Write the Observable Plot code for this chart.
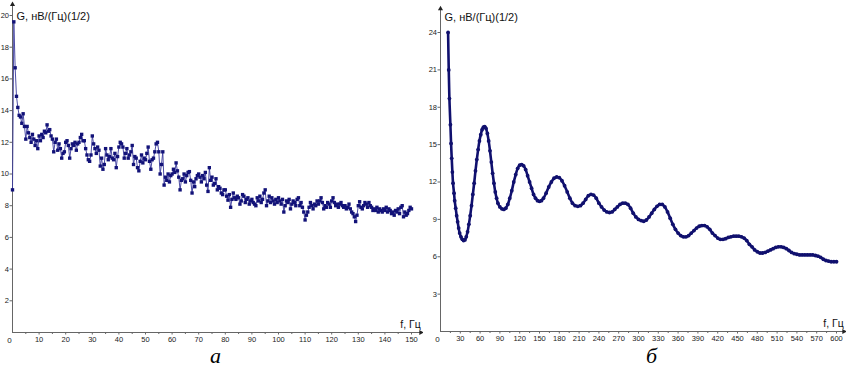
<!DOCTYPE html>
<html><head><meta charset="utf-8">
<script src="https://cdn.jsdelivr.net/npm/d3@7"></script>
<script src="https://cdn.jsdelivr.net/npm/@observablehq/plot@0.6"></script>
<style>
body{margin:0;background:#fff;}
#wrap{position:relative;width:846px;height:370px;overflow:hidden;}
#pa{position:absolute;left:0;top:0;}
#pb{position:absolute;left:423px;top:0;}
#wrap svg, #wrap svg text{font-family:"Liberation Sans",Arial,Helvetica,sans-serif;}
.cap{position:absolute;top:345px;font-family:"Liberation Serif","DejaVu Serif",serif;font-style:italic;font-size:22px;color:#000;line-height:1;}
</style></head><body>
<div id="wrap"><div id="pa"></div><div id="pb"></div>
<div class="cap" style="left:210px">а</div><div class="cap" style="left:646px">б</div></div>
<script>
// ---- chart а : spectrum 0..150 Hz, step 0.5 Hz ----
const stepA = 0.5;
const gA = [
 9.0,19.6,16.7,14.9,14.2,13.7,13.6,13.2,13.8,13.0,12.2,13.0,12.6,12.3,12.0,12.5,12.2,11.8,12.1,11.6,
 12.4,12.1,12.5,12.3,12.7,12.6,13.1,12.7,12.8,12.4,12.2,11.4,12.0,12.2,11.5,11.9,11.6,11.0,11.3,11.4,
 12.0,12.1,11.8,11.0,11.6,11.9,11.8,12.0,11.5,11.9,12.0,12.3,12.5,12.1,12.1,11.6,11.2,10.9,10.8,11.2,
 12.4,11.9,11.6,11.3,11.7,11.5,10.5,11.0,10.3,10.6,11.6,11.2,10.9,11.1,11.6,11.0,10.9,11.3,10.4,11.1,
 11.7,12.0,11.9,11.7,11.0,11.3,11.6,11.0,11.2,11.4,11.8,10.6,11.1,11.0,10.4,10.2,10.8,11.2,10.7,11.0,
 10.9,11.3,11.7,10.8,10.3,10.9,11.0,11.4,11.9,12.0,11.4,10.0,10.6,11.4,9.3,9.8,9.6,10.0,9.5,9.9,
 10.0,10.3,10.1,10.7,10.2,9.8,9.0,9.6,9.7,10.0,9.5,9.9,10.1,10.15,9.6,8.8,9.5,9.2,9.7,9.9,
 10.0,9.8,9.5,9.9,9.7,10.1,9.3,8.9,10.4,9.6,9.8,9.3,9.4,9.7,9.0,9.2,9.1,8.8,8.7,9.0,
 9.0,8.6,8.35,8.7,7.9,8.4,8.8,8.5,8.4,8.6,8.5,8.1,8.3,8.7,8.6,8.2,8.4,8.5,8.1,8.3,
 8.4,8.2,8.1,8.0,8.5,8.3,8.6,8.2,8.4,8.8,9.0,8.0,8.3,8.6,8.2,8.5,8.3,8.1,8.4,8.2,
 8.5,8.3,8.1,8.4,7.6,8.0,8.3,8.2,8.4,7.8,8.1,8.3,8.2,8.0,8.4,8.5,8.0,8.2,7.9,7.6,
 7.1,7.4,7.6,7.9,8.2,8.0,7.8,8.1,8.0,8.3,8.1,8.3,8.5,8.2,7.8,8.0,7.9,8.2,8.1,7.9,
 8.3,8.5,8.2,8.0,8.1,7.9,8.1,8.2,8.0,7.9,8.0,7.8,7.9,8.1,7.8,7.6,7.5,7.3,7.0,7.4,
 8.0,8.25,7.9,7.8,8.0,8.2,8.1,7.9,8.2,8.0,7.9,7.7,7.8,7.7,7.9,7.6,7.8,7.7,7.6,7.8,
 7.7,7.9,7.6,7.8,7.7,7.5,7.6,7.4,7.7,7.6,7.8,7.5,7.9,8.0,7.3,7.6,7.4,7.5,7.7,7.9,
 7.8
];
const yTicksA = [2,4,6,8,10,12,14,16,18,20];
const xTicksA = [10,20,30,40,50,60,70,80,90,100,110,120,130,140,150];
const xMinorA = [5,15,25,35,45,55,65,75,85,95,105,115,125,135,145];

// ---- chart б : spectrum 0..600 Hz ----
const fB = [11.5,12.5,13.5,15,16,17,18,19,20.5,21.5,23,24.5,26,27.5,29,31,33,35,37,39,
 41,43,45,47,49,51,53,55,57,59,61,63,65,67,69,71,73,75,77,79,
 81,83,85,87,90,93,96,99,102,105,108,111,114,117,120,123,126,129,132,135,
 138,141,144,147,150,153,156,160,164,168,172,176,180,184,188,192,196,200,204,208,
 212,216,220,224,228,232,236,240,244,248,252,256,260,264,268,272,276,280,284,288,
 292,296,300,304,308,312,316,320,324,328,332,336,340,344,348,352,356,360,364,368,
 372,376,380,384,388,392,396,400,404,408,412,416,420,424,428,432,436,440,444,448,
 452,456,460,464,468,472,476,480,484,488,492,496,500,504,508,512,516,520,524,528,
 532,536,540,544,548,552,556,560,564,568,572,576,580,584,588,592,596,600];
const gB = [24.0,21.0,18.7,16.6,15.1,13.9,12.8,11.9,11.1,10.5,9.9,9.3,8.8,8.3,7.9,7.6,7.4,7.3,7.35,7.6,
 8.0,8.6,9.3,10.1,11.0,11.9,12.9,13.8,14.6,15.3,15.8,16.2,16.4,16.45,16.3,15.9,15.3,14.5,13.6,12.7,
 11.9,11.2,10.7,10.3,10.0,9.85,9.8,9.9,10.2,10.7,11.3,12.0,12.6,13.1,13.35,13.4,13.3,13.0,12.5,12.0,
 11.5,11.0,10.7,10.5,10.45,10.5,10.7,11.1,11.6,12.0,12.3,12.4,12.35,12.1,11.7,11.2,10.7,10.3,10.1,10.05,
 10.1,10.3,10.6,10.9,11.0,10.95,10.7,10.3,10.0,9.75,9.6,9.55,9.6,9.8,10.0,10.2,10.3,10.3,10.2,9.9,
 9.5,9.2,9.0,8.9,8.85,8.95,9.2,9.5,9.8,10.05,10.2,10.2,10.0,9.6,9.1,8.6,8.2,7.9,7.7,7.6,
 7.6,7.7,7.9,8.1,8.3,8.45,8.5,8.5,8.4,8.2,7.9,7.7,7.5,7.4,7.4,7.45,7.55,7.6,7.65,7.65,
 7.65,7.6,7.5,7.3,7.0,6.8,6.55,6.4,6.3,6.3,6.35,6.45,6.55,6.65,6.75,6.8,6.8,6.75,6.65,6.5,
 6.35,6.25,6.2,6.15,6.15,6.15,6.15,6.15,6.15,6.1,6.05,5.95,5.8,5.7,5.65,5.6,5.6,5.6];
const yTicksB = [3,6,9,12,15,18,21,24];
const xTicksB = [30,60,90,120,150,180,210,240,270,300,330,360,390,420,450,480,510,540,570,600];
const xMinorB = [15,45,75,105,135,165,195,225,255,285,315,345,375,405,435,465,495,525,555,585];

const yLabel = "G, нВ/(Гц)(1/2)";
const xLabel = "f, Гц";

const dataA = gA.map((g, i) => ({f: i * stepA, g}));
const dataB = fB.map((f, i) => ({f, g: gB[i]}));

const font = "Liberation Sans, Arial, Helvetica, sans-serif";
const axisCol = "#666";

function frame(xTop, yTop, opts) {
  return [
    Plot.ruleX([0], {y1: 0, y2: yTop, stroke: axisCol, strokeWidth: 1}),
    Plot.ruleY([0], {x1: 0, x2: xTop, stroke: axisCol, strokeWidth: 1}),
    Plot.dot([{x: 0, y: yTop}], {x: "x", y: "y", symbol: "triangle", r: 1.9, fill: "#222", stroke: null}),
    Plot.dot([{x: xTop, y: 0}], {x: "x", y: "y", symbol: "triangle", rotate: 90, r: 1.9, fill: "#222", stroke: null}),
    Plot.axisY({ticks: opts.yTicks, tickSize: 2.5, tickPadding: 1, label: null, stroke: axisCol, fill: "#222"}),
    Plot.axisX({ticks: opts.xTicks, tickSize: 2.5, tickPadding: 2, label: null, stroke: axisCol, fill: "#222"}),
    Plot.axisX({ticks: opts.xMinor, tickSize: 2, text: null, label: null, stroke: axisCol}),
    Plot.text(["0"], {x: 0, y: 0, dx: -3, dy: 7.5, fill: "#222", fontSize: 8}),
    Plot.text([yLabel], {x: 0, y: opts.yLabelAt, dx: 4, dy: 1, textAnchor: "start", fontSize: 11, fill: "#111"}),
    Plot.text([xLabel], {x: xTop, y: 0, dx: 0, dy: -8, textAnchor: "end", fontSize: 10.5, fill: "#111"})
  ];
}

const plotA = Plot.plot({
  width: 423, height: 343,
  marginLeft: 12, marginRight: 12, marginTop: 15, marginBottom: 11,
  x: {domain: [0, 150]},
  y: {domain: [0, 20]},
  style: {fontFamily: font, fontSize: "7.5px", background: "#fff", overflow: "visible"},
  marks: [
    ...frame(153.5, 20.7, {yTicks: yTicksA, xTicks: xTicksA, xMinor: xMinorA, yLabelAt: 20}),
    Plot.line(dataA, {x: "f", y: "g", stroke: "#3a3a9c", strokeWidth: 0.9}),
    Plot.dot(dataA, {x: "f", y: "g", symbol: "square", r: 1.9, fill: "#121278", stroke: null})
  ]
});
document.getElementById("pa").append(plotA);

const plotB = Plot.plot({
  width: 423, height: 343,
  marginLeft: 17, marginRight: 10, marginTop: 32, marginBottom: 12,
  x: {domain: [0, 600]},
  y: {domain: [0, 24]},
  style: {fontFamily: font, fontSize: "7.5px", background: "#fff", overflow: "visible"},
  marks: [
    ...frame(611, 25.9, {yTicks: yTicksB, xTicks: xTicksB, xMinor: xMinorB, yLabelAt: 25.3}),
    Plot.line(dataB, {x: "f", y: "g", stroke: "#10106e", strokeWidth: 2.6, curve: "catmull-rom"}),
    Plot.dot(dataB, {x: "f", y: "g", r: 1.9, fill: "#10106e", stroke: null})
  ]
});
document.getElementById("pb").append(plotB);
</script>
</body></html>
